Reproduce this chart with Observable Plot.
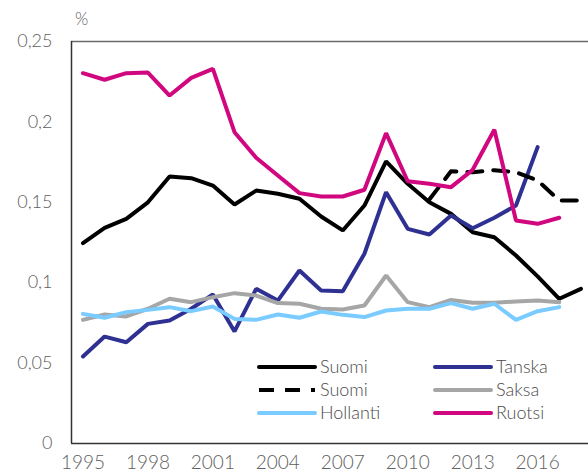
<!DOCTYPE html>
<html><head><meta charset="utf-8">
<script src="https://cdn.jsdelivr.net/npm/d3@7"></script>
<script src="https://cdn.jsdelivr.net/npm/@observablehq/plot@0.6"></script>
<style>
body{margin:0;background:#fff;}
#chart svg{display:block;}
</style>
</head><body><div id="chart"></div>
<script>
// ---- data ----
const yearsSuomi = [1995,1996,1997,1998,1999,2000,2001,2002,2003,2004,2005,2006,2007,2008,2009,2010,2011,2012,2013,2014,2015,2016,2017,2018];
const suomi = [0.1246,0.1341,0.1397,0.150,0.166,0.165,0.1604,0.1486,0.1573,0.1553,0.1522,0.1412,0.1325,0.148,0.1754,0.1615,0.150,0.1428,0.1314,0.1283,0.1169,0.1039,0.090,0.0962];

const yearsSuomiDash = [2011,2012,2013,2014,2015,2016,2017,2018];
const suomiDash = [0.1517,0.1693,0.1687,0.1700,0.1687,0.1636,0.1511,0.1511];

const yearsTanska = [1995,1996,1997,1998,1999,2000,2001,2002,2003,2004,2005,2006,2007,2008,2009,2010,2011,2012,2013,2014,2015,2016];
const tanska = [0.0541,0.0665,0.063,0.0744,0.0765,0.0838,0.0927,0.0697,0.0962,0.0889,0.1076,0.0951,0.0947,0.118,0.1563,0.1335,0.130,0.1418,0.1339,0.1404,0.148,0.1843];

const yearsOthers = [1995,1996,1997,1998,1999,2000,2001,2002,2003,2004,2005,2006,2007,2008,2009,2010,2011,2012,2013,2014,2015,2016,2017];
const saksa = [0.0769,0.0802,0.079,0.0838,0.090,0.0879,0.091,0.0935,0.092,0.0873,0.0869,0.0838,0.0833,0.0858,0.1045,0.0879,0.0848,0.0893,0.0875,0.0875,0.0883,0.0889,0.0879];
const hollanti = [0.0806,0.0782,0.0817,0.0831,0.0848,0.0823,0.0852,0.0775,0.0769,0.0802,0.0782,0.0821,0.080,0.0786,0.0827,0.0838,0.0838,0.0873,0.0838,0.0869,0.0769,0.0823,0.0848];
const ruotsi = [0.2303,0.2262,0.2303,0.2307,0.2164,0.2274,0.233,0.1936,0.1777,0.1667,0.1557,0.1536,0.1536,0.1578,0.193,0.1631,0.1615,0.1594,0.1702,0.1951,0.1387,0.1366,0.1404];

const xTicks = [1995,1998,2001,2004,2007,2010,2013,2016];
const yTicks = [0,0.05,0.1,0.15,0.2,0.25];
const unitLabel = "%";

const seriesNames = ["Suomi","Tanska","Saksa","Hollanti","Ruotsi"];
const seriesColors = ["#000000","#2E3192","#A6A6A6","#7ACBFF","#D1077F"];

const legendItems = [
  {label:"Suomi", color:"#000000", dash:null},
  {label:"Tanska", color:"#2E3192", dash:null},
  {label:"Suomi", color:"#000000", dash:"15,11"},
  {label:"Saksa", color:"#A6A6A6", dash:null},
  {label:"Hollanti", color:"#7ACBFF", dash:null},
  {label:"Ruotsi", color:"#D1077F", dash:null}
];

// ---- build table ----
const rows = [];
function add(name, years, vals){ years.forEach((y,i)=>rows.push({series:name, year:y, value:vals[i]})); }
add("Suomi", yearsSuomi, suomi);
add("Tanska", yearsTanska, tanska);
add("Saksa", yearsOthers, saksa);
add("Hollanti", yearsOthers, hollanti);
add("Ruotsi", yearsOthers, ruotsi);
const dashRows = yearsSuomiDash.map((y,i)=>({year:y, value:suomiDash[i]}));

const xDomain = [1994.47, 2018.35];
const fmt = d => d3.format("~g")(d).replace(".", ",");

const plot = Plot.plot({
  width: 588,
  height: 475,
  marginLeft: 71,
  marginRight: 0,
  marginTop: 41,
  marginBottom: 32,
  style: {fontFamily: "Lato, 'Open Sans', sans-serif", fontWeight: 300, fontSize: "18px", color: "#606060", background: "#fff"},
  x: {domain: xDomain},
  y: {domain: [0, 0.25]},
  color: {domain: seriesNames, range: seriesColors},
  marks: [
    Plot.axisY({ticks: yTicks, tickSize: 0, tickPadding: 19, tickFormat: fmt, label: null, fontSize: 18}),
    Plot.axisX({ticks: xTicks, tickSize: 0, tickPadding: 12, tickFormat: d => String(d), label: null, fontSize: 19}),
    Plot.line(rows.filter(d=>d.series==="Suomi"), {x:"year", y:"value", stroke:"series", strokeWidth:4, strokeLinejoin:"miter"}),
    Plot.line(rows.filter(d=>d.series==="Tanska"), {x:"year", y:"value", stroke:"series", strokeWidth:4, strokeLinejoin:"miter"}),
    Plot.line(dashRows, {x:"year", y:"value", stroke:"#000", strokeWidth:4, strokeDasharray:"15,11"}),
    Plot.line(rows.filter(d=>d.series==="Saksa"), {x:"year", y:"value", stroke:"series", strokeWidth:4, strokeLinejoin:"miter"}),
    Plot.line(rows.filter(d=>d.series==="Hollanti"), {x:"year", y:"value", stroke:"series", strokeWidth:4, strokeLinejoin:"miter"}),
    Plot.line(rows.filter(d=>d.series==="Ruotsi"), {x:"year", y:"value", stroke:"series", strokeWidth:4, strokeLinejoin:"miter"}),
    Plot.ruleY([0.25], {stroke:"#6b6b6b", strokeWidth:1.5}),
    Plot.ruleY([0], {stroke:"#333", strokeWidth:1.5}),
    Plot.ruleX([xDomain[0]], {stroke:"#333", strokeWidth:1.5})
  ]
});
document.getElementById("chart").appendChild(plot);

// ---- extra text + legend inside the svg ----
const svg = d3.select(plot);
svg.append("text").attr("x", 75).attr("y", 25).attr("text-anchor", "start")
  .attr("font-size", 17).attr("fill", "#606060").text(unitLabel);

const lg = svg.append("g").attr("font-size", 18).attr("fill", "#4a4a4a").attr("text-anchor", "start");
legendItems.forEach((it, i) => {
  const col = i % 2, row = Math.floor(i / 2);
  const x0 = 259 + col * 176, y0 = 367 + row * 23;
  lg.append("line").attr("x1", x0).attr("x2", x0 + 56).attr("y1", y0).attr("y2", y0)
    .attr("stroke", it.color).attr("stroke-width", 4)
    .attr("stroke-dasharray", it.dash).attr("stroke-linecap", it.dash ? "butt" : "round");
  lg.append("text").attr("x", x0 + 61).attr("y", y0).attr("dy", "0.35em").attr("text-anchor", "start").text(it.label);
});
</script>
</body></html>
